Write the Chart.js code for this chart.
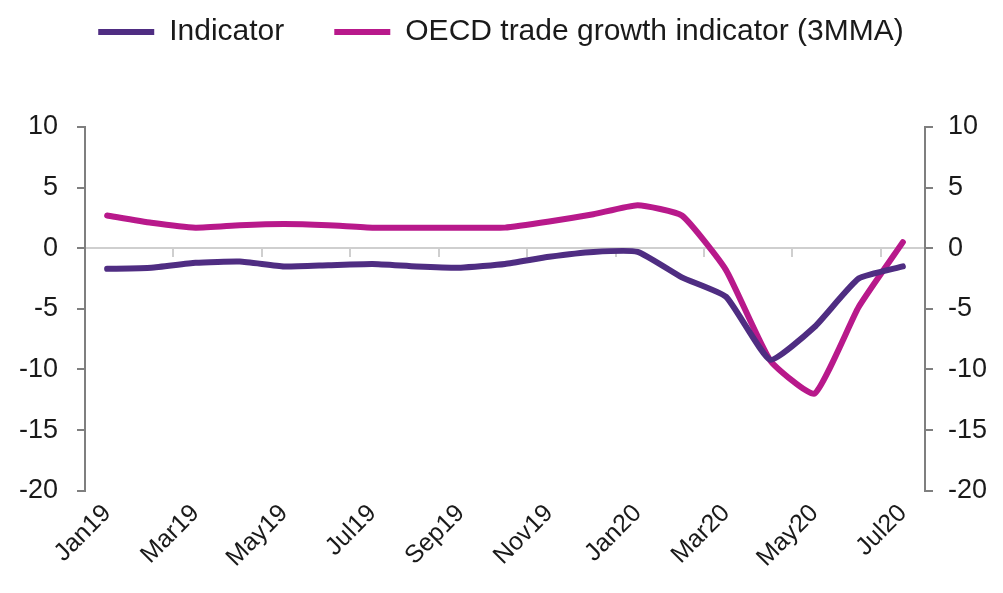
<!DOCTYPE html>
<html lang="en">
<head>
    <meta charset="UTF-8">
    <title>Indicator vs OECD trade growth</title>
    <script src="https://cdn.jsdelivr.net/npm/chart.js"></script>
    <style>
        html, body { margin: 0; padding: 0; background: #fff; overflow: hidden; }
        #chart-container { width: 1003px; height: 593px; }
    </style>
</head>
<body>
    <div id="chart-container">
        <canvas id="tradeChart"></canvas>
    </div>

    <script>
        // Months on the category axis
        const months = ['Jan19', 'Feb19', 'Mar19', 'Apr19', 'May19', 'Jun19', 'Jul19', 'Aug19', 'Sep19', 'Oct19',
                        'Nov19', 'Dec19', 'Jan20', 'Feb20', 'Mar20', 'Apr20', 'May20', 'Jun20', 'Jul20'];

        // Values
        const indicator = [-1.7, -1.6, -1.2, -1.1, -1.5, -1.4, -1.3, -1.5, -1.6, -1.3,
                           -0.7, -0.3, -0.3, -2.4, -4.0, -9.2, -6.5, -2.5, -1.5];
        const oecdTrade = [2.7, 2.1, 1.7, 1.9, 2.0, 1.9, 1.7, 1.7, 1.7, 1.7,
                           2.2, 2.8, 3.55, 2.7, -1.8, -9.25, -12.0, -4.85, 0.5];

        // Axis range
        const yMin = -20;
        const yMax = 10;
        const yStep = 5;

        const purple = '#4f2d82';
        const pink = '#b8198b';
        const axisGrey = '#7f7f7f';
        const zeroGrey = '#cfcfcf';

        // Move the legend up so it sits near the top edge
        const liftLegend = {
            id: 'liftLegend',
            afterLayout(chart) {
                chart.legend.top -= 70;
                chart.legend.bottom -= 70;
            }
        };

        const ctx = document.getElementById('tradeChart').getContext('2d');

        new Chart(ctx, {
            type: 'line',
            data: {
                labels: months,
                datasets: [{
                    label: 'Indicator',
                    data: indicator,
                    borderColor: purple,
                    backgroundColor: purple,
                    borderWidth: 6,
                    borderCapStyle: 'round',
                    pointRadius: 0,
                    tension: 0.15,
                    yAxisID: 'y'
                }, {
                    label: 'OECD trade growth indicator (3MMA)',
                    data: oecdTrade,
                    borderColor: pink,
                    backgroundColor: pink,
                    borderWidth: 6,
                    borderCapStyle: 'round',
                    pointRadius: 0,
                    tension: 0.15,
                    yAxisID: 'y'
                }]
            },
            options: {
                responsive: true,
                maintainAspectRatio: false,
                animation: false,
                layout: {
                    padding: { left: 0, right: 1, top: 37, bottom: 12 }
                },
                plugins: {
                    tooltip: { enabled: false },
                    legend: {
                        position: 'top',
                        labels: {
                            usePointStyle: true,
                            pointStyle: 'line',
                            pointStyleWidth: 56,
                            padding: 50,
                            color: '#1a1a1a',
                            font: { family: 'Liberation Sans, Arial, sans-serif', size: 30 }
                        }
                    }
                },
                scales: {
                    x: {
                        type: 'category',
                        position: 'bottom',
                        offset: true,
                        grid: { display: false, drawTicks: false },
                        border: { display: false },
                        // rotated labels should not push the plot inwards
                        afterFit: (scale) => { scale.paddingLeft = 0; scale.paddingRight = 0; },
                        ticks: {
                            autoSkip: false,
                            minRotation: 45,
                            maxRotation: 45,
                            padding: 8,
                            color: '#1a1a1a',
                            font: { family: 'Liberation Sans, Arial, sans-serif', size: 25 },
                            callback: function(value, index) {
                                return index % 2 === 0 ? this.getLabelForValue(value) : '';
                            }
                        }
                    },
                    // Zero line with tick marks between every second month
                    xZero: {
                        type: 'category',
                        position: { y: 0 },
                        offset: true,
                        grid: {
                            offset: true,
                            drawOnChartArea: false,
                            tickLength: 8,
                            lineWidth: 2,
                            color: (c) => c.index % 2 === 0 ? zeroGrey : 'rgba(0,0,0,0)'
                        },
                        border: { color: zeroGrey, width: 2 },
                        ticks: { display: false, autoSkip: false }
                    },
                    y: {
                        position: 'left',
                        min: yMin,
                        max: yMax,
                        grid: { drawOnChartArea: false, tickLength: 8, color: axisGrey, lineWidth: 2 },
                        border: { color: axisGrey, width: 2 },
                        ticks: {
                            stepSize: yStep,
                            padding: 19,
                            color: '#1a1a1a',
                            font: { family: 'Liberation Sans, Arial, sans-serif', size: 27 }
                        }
                    },
                    y1: {
                        position: 'right',
                        min: yMin,
                        max: yMax,
                        grid: { drawOnChartArea: false, tickLength: 8, color: axisGrey, lineWidth: 2 },
                        border: { color: axisGrey, width: 2 },
                        ticks: {
                            stepSize: yStep,
                            padding: 15,
                            color: '#1a1a1a',
                            font: { family: 'Liberation Sans, Arial, sans-serif', size: 27 }
                        }
                    }
                }
            },
            plugins: [liftLegend]
        });
    </script>
</body>
</html>
